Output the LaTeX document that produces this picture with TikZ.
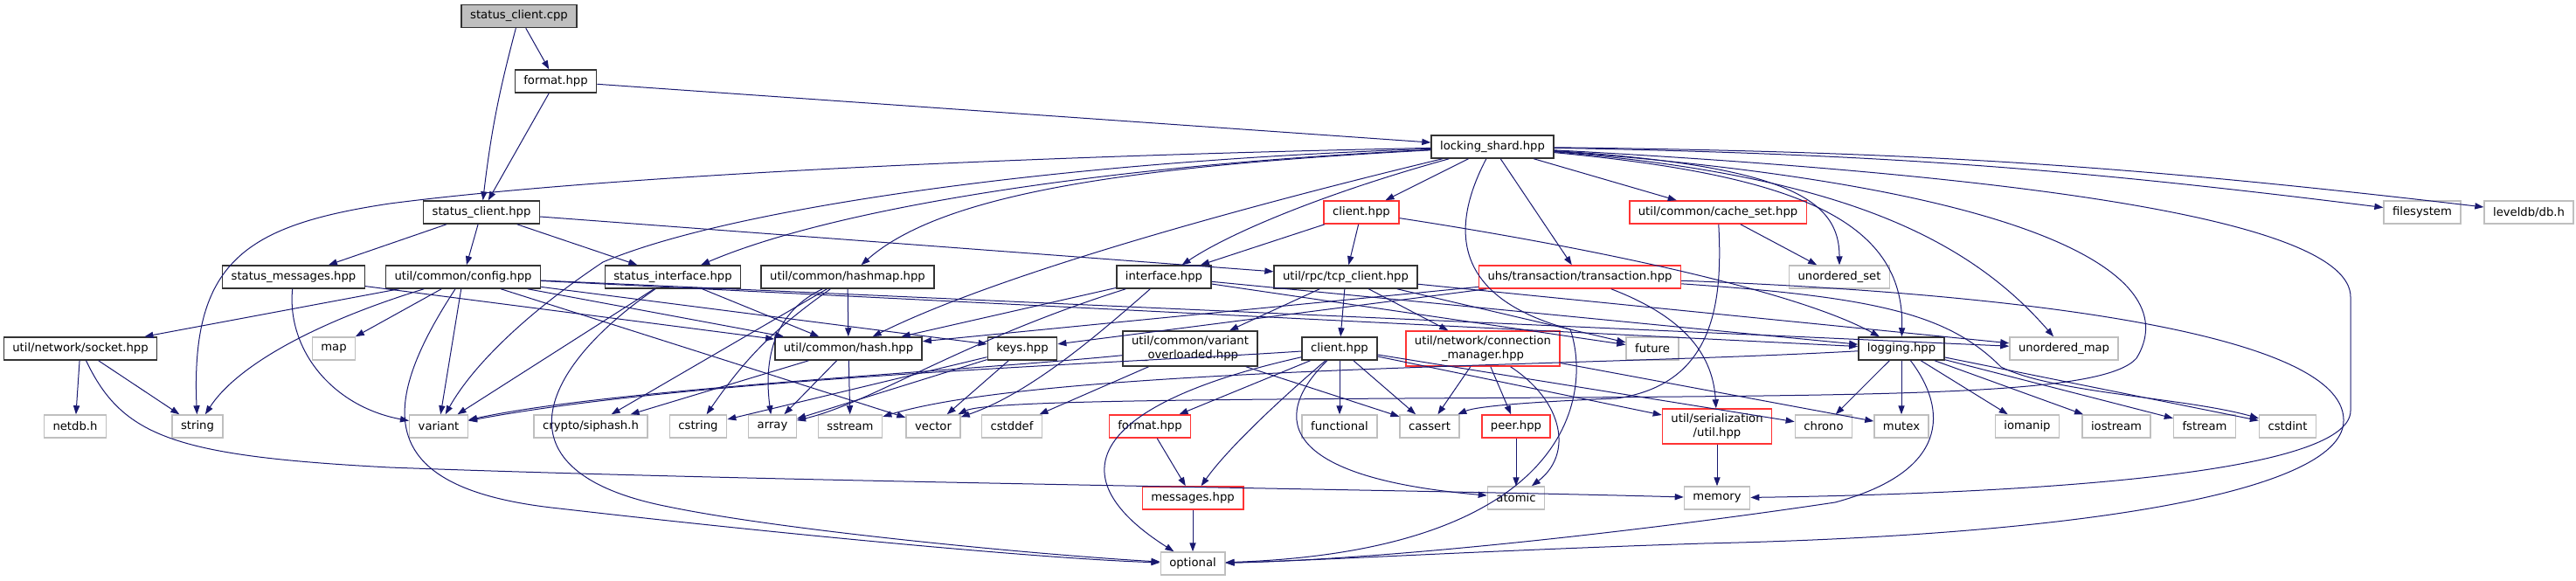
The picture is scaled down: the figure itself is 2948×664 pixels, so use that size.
\documentclass[tikz,border=0pt]{standalone}
\usepackage{fontspec}
\setmainfont{DejaVu Sans}
\usetikzlibrary{arrows.meta}
\definecolor{edgecol}{HTML}{191970}
\definecolor{redb}{HTML}{FF3333}
\definecolor{grayb}{HTML}{BFBFBF}
\definecolor{docb}{HTML}{333333}
\tikzset{
  nd/.style={rectangle, inner xsep=5pt, inner ysep=0pt, minimum height=13pt, fill=white, line width=0.75pt,
    font=\fontsize{6.6}{7.7}\selectfont, align=center},
  doc/.style={nd, draw=docb},
  trunc/.style={nd, draw=redb},
  sys/.style={nd, draw=grayb},
  rootnode/.style={doc, fill=grayb},
  two/.style={minimum height=20pt},
  dep/.style={draw=edgecol, line width=0.5pt, -{Triangle[length=5pt,width=3.6pt]}}
}
\begin{document}
\begin{tikzpicture}[x=0.5pt,y=-0.5pt]
\useasboundingbox (0,0) rectangle (2948,664);
% row 1-3
\node[rootnode] (scpp) at (594,18.5) {status\_client.cpp};
\node[doc] (fmt1) at (636,93) {format.hpp};
\node[doc] (ls) at (1708,168) {locking\_shard.hpp};
% row 4
\node[doc] (schpp) at (551,243) {status\_client.hpp};
\node[trunc] (clienta) at (1558,243) {client.hpp};
\node[trunc] (cacheset) at (1966,243) {util/common/cache\_set.hpp};
\node[sys] (filesystem) at (2772,243) {filesystem};
\node[sys] (leveldb) at (2894,243) {leveldb/db.h};
% row 5
\node[doc] (smsg) at (336,317) {status\_messages.hpp};
\node[doc] (config) at (530,317) {util/common/config.hpp};
\node[doc] (sif) at (770,317) {status\_interface.hpp};
\node[doc] (hashmap) at (970,317) {util/common/hashmap.hpp};
\node[doc] (interface) at (1332,317) {interface.hpp};
\node[doc] (tcp) at (1540,317) {util/rpc/tcp\_client.hpp};
\node[trunc] (transaction) at (1808,317) {uhs/transaction/transaction.hpp};
\node[sys] (uset) at (2105,317) {unordered\_set};
% row 6
\node[doc] (socket) at (92,399) {util/network/socket.hpp};
\node[sys] (map) at (382,399) {map};
\node[doc] (hash) at (971,399) {util/common/hash.hpp};
\node[doc] (keys) at (1170,399) {keys.hpp};
\node[doc,two] (varov) at (1362,399) {util/common/variant\\\_overloaded.hpp};
\node[doc] (clientb) at (1533,399) {client.hpp};
\node[trunc,two] (cm) at (1697,399) {util/network/connection\\\_manager.hpp};
\node[sys] (future) at (1891,399) {future};
\node[doc] (logging) at (2176,399) {logging.hpp};
\node[sys] (umap) at (2362,399) {unordered\_map};
% row 7
\node[sys] (netdb) at (86,488) {netdb.h};
\node[sys] (string) at (226,488) {string};
\node[sys] (variant) at (502,488) {variant};
\node[sys] (siphash) at (676,488) {crypto/siphash.h};
\node[sys] (cstring) at (799,488) {cstring};
\node[sys] (array) at (884,488) {array};
\node[sys] (sstream) at (973,488) {sstream};
\node[sys] (vector) at (1068,488) {vector};
\node[sys] (cstddef) at (1158,488) {cstddef};
\node[trunc] (format2) at (1316,488) {format.hpp};
\node[sys] (functional) at (1533,488) {functional};
\node[sys] (cassert) at (1636,488) {cassert};
\node[trunc] (peer) at (1735,488) {peer.hpp};
\node[trunc,two] (serial) at (1965,488) {util/serialization\\/util.hpp};
\node[sys] (chrono) at (2087,488) {chrono};
\node[sys] (mutex) at (2176,488) {mutex};
\node[sys] (iomanip) at (2320,488) {iomanip};
\node[sys] (iostream) at (2422,488) {iostream};
\node[sys] (fstream) at (2523,488) {fstream};
\node[sys] (cstdint) at (2618,488) {cstdint};
% row 8-9
\node[trunc] (messages) at (1365,570) {messages.hpp};
\node[sys] (atomic) at (1735,570) {atomic};
\node[sys] (memory) at (1965,570) {memory};
\node[sys] (optional) at (1365,645) {optional};

% edges
\draw[dep] (scpp) to[bend right=4] (schpp);
\draw[dep] (scpp) -- (fmt1);
\draw[dep] (fmt1) -- (schpp);
\draw[dep] (fmt1) -- (ls);
\draw[dep] (schpp) -- (smsg);
\draw[dep] (schpp) -- (config);
\draw[dep] (schpp) -- (sif);
\draw[dep] (schpp) -- (tcp);
\draw[dep] (smsg) .. controls (328,400) and (380,465) .. (variant);
\draw[dep] (smsg) -- (hash);
\draw[dep] (config) -- (socket);
\draw[dep] (config) -- (map);
\draw[dep] (config) .. controls (357,370) and (270,420) .. (string);
\draw[dep] (config) -- (variant);
\draw[dep] (config) .. controls (430,470) and (430,560) .. (640,582) .. controls (900,612) and (1200,640) .. (optional);
\draw[dep] (config) -- (hash);
\draw[dep] (config) -- (keys);
\draw[dep] (config) -- (logging);
\draw[dep] (config) -- (umap);
\draw[dep] (config) -- (vector);
\draw[dep] (sif) -- (variant);
\draw[dep] (sif) .. controls (620,420) and (560,540) .. (765,580) .. controls (900,608) and (1200,636) .. (optional);
\draw[dep] (sif) -- (hash);
\draw[dep] (hashmap) -- (siphash);
\draw[dep] (hashmap) to[bend right=10] (cstring);
\draw[dep] (hashmap) .. controls (880,360) and (875,420) .. (array);
\draw[dep] (hashmap) -- (hash);
\draw[dep] (hash) -- (siphash);
\draw[dep] (hash) -- (array);
\draw[dep] (hash) -- (sstream);
\draw[dep] (socket) -- (netdb);
\draw[dep] (socket) -- (string);
\draw[dep] (socket) .. controls (140,500) and (200,522) .. (446,535) .. controls (900,552) and (1600,560) .. (memory);
\draw[dep] (ls) .. controls (1200,178) and (700,200) .. (446,233) .. controls (280,258) and (218,300) .. (string);
\draw[dep] (ls) .. controls (1200,185) and (830,240) .. (690,300) .. controls (600,360) and (540,420) .. (variant);
\draw[dep] (ls) .. controls (1250,190) and (950,240) .. (sif);
\draw[dep] (ls) .. controls (1300,190) and (1080,220) .. (hashmap);
\draw[dep] (ls) .. controls (1450,230) and (1150,310) .. (hash);
\draw[dep] (ls) .. controls (1520,220) and (1410,265) .. (interface);
\draw[dep] (ls) -- (clienta);
\draw[dep] (ls) -- (cacheset);
\draw[dep] (ls) -- (transaction);
\draw[dep] (ls) .. controls (1660,260) and (1660,340) .. (1797,377) .. controls (1822,450) and (1800,630) .. (optional);
\draw[dep] (ls) .. controls (2050,200) and (2180,250) .. (logging);
\draw[dep] (ls) .. controls (2050,190) and (2105,230) .. (uset);
\draw[dep] (ls) .. controls (2100,200) and (2250,270) .. (umap);
\draw[dep] (ls) .. controls (2300,200) and (2690,250) .. (2690,340) -- (2690,470) .. controls (2690,545) and (2300,565) .. (memory);
\draw[dep] (ls) to[bend left=3] (filesystem);
\draw[dep] (ls) to[bend left=3] (leveldb);
\draw[dep] (ls) .. controls (2350,215) and (2500,320) .. (2445,410) .. controls (2410,450) and (2200,452) .. (1800,455) .. controls (1400,457) and (1130,458) .. (vector);
\draw[dep] (transaction) .. controls (2300,335) and (2680,380) .. (2682,480) .. controls (2685,560) and (2400,612) .. (1950,622) .. controls (1700,630) and (1500,642) .. (optional);
\draw[dep] (transaction) .. controls (2150,340) and (2230,360) .. (2290,420) .. controls (2350,450) and (2500,455) .. (cstdint);
\draw[dep] (transaction) -- (keys);
\draw[dep] (transaction) -- (hash);
\draw[dep] (transaction) .. controls (1920,360) and (1960,400) .. (serial);
\draw[dep] (clienta) -- (interface);
\draw[dep] (clienta) -- (tcp);
\draw[dep] (clienta) .. controls (1800,280) and (2050,330) .. (logging);
\draw[dep] (cacheset) -- (uset);
\draw[dep] (cacheset) .. controls (1972,350) and (1960,440) .. (1850,456) .. controls (1750,460) and (1690,465) .. (cassert);
\draw[dep] (interface) -- (hash);
\draw[dep] (interface) .. controls (1100,390) and (1000,460) .. (array);
\draw[dep] (interface) .. controls (1260,380) and (1180,450) .. (vector);
\draw[dep] (interface) -- (future);
\draw[dep] (interface) -- (logging);
\draw[dep] (tcp) -- (varov);
\draw[dep] (tcp) -- (clientb);
\draw[dep] (tcp) -- (cm);
\draw[dep] (tcp) -- (future);
\draw[dep] (tcp) -- (umap);
\draw[dep] (varov) .. controls (1100,425) and (700,445) .. (variant);
\draw[dep] (varov) -- (cstddef);
\draw[dep] (varov) -- (cassert);
\draw[dep] (clientb) .. controls (1260,460) and (1200,540) .. (optional);
\draw[dep] (clientb) -- (format2);
\draw[dep] (clientb) .. controls (1450,470) and (1400,520) .. (messages);
\draw[dep] (clientb) .. controls (1460,470) and (1450,545) .. (atomic);
\draw[dep] (clientb) -- (functional);
\draw[dep] (clientb) -- (cassert);
\draw[dep] (clientb) -- (serial);
\draw[dep] (clientb) -- (chrono);
\draw[dep] (clientb) .. controls (1300,415) and (800,432) .. (variant);
\draw[dep] (cm) -- (cassert);
\draw[dep] (cm) -- (peer);
\draw[dep] (cm) .. controls (1790,460) and (1800,520) .. (atomic);
\draw[dep] (cm) -- (mutex);
\draw[dep] (format2) -- (messages);
\draw[dep] (messages) -- (optional);
\draw[dep] (peer) -- (atomic);
\draw[dep] (serial) -- (memory);
\draw[dep] (logging) -- (chrono);
\draw[dep] (logging) -- (mutex);
\draw[dep] (logging) -- (iomanip);
\draw[dep] (logging) -- (iostream);
\draw[dep] (logging) -- (fstream);
\draw[dep] (logging) -- (cstdint);
\draw[dep] (logging) .. controls (2230,470) and (2230,540) .. (2100,575) .. controls (1900,605) and (1600,640) .. (optional);
\draw[dep] (logging) .. controls (1800,420) and (1200,420) .. (sstream);
\draw[dep] (keys) -- (array);
\draw[dep] (keys) -- (vector);
\draw[dep] (keys) -- (cstring);
\end{tikzpicture}
\end{document}
